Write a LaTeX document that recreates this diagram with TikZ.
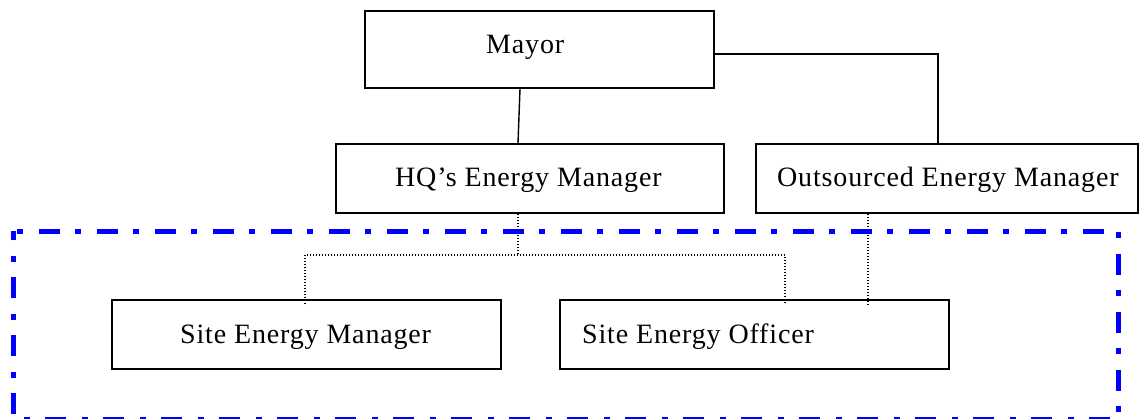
\documentclass[tikz,border=0pt]{standalone}
\usepackage{fontspec}
\setmainfont{Liberation Serif}[LetterSpace=3]
\usetikzlibrary{calc}
\begin{document}
\begin{tikzpicture}[x=1pt,y=-1pt,
  orgbox/.style={draw=black, line width=1.8pt, rectangle, inner sep=0pt},
  label/.style={anchor=base west, inner sep=0pt, font=\fontsize{28}{33}\selectfont},
  solidlink/.style={draw=black, line width=1.4pt},
  dottedlink/.style={draw=black, line width=1.1pt, dash pattern=on 1pt off 2pt},
  siteframe/.style={draw={rgb,255:red,0;green,0;blue,255}, line width=5pt,
    dash pattern=on 6pt off 16pt on 21pt off 15pt, dash phase=54pt}]
\useasboundingbox (0,0) rectangle (1140,418);

% boxes
\node[orgbox, minimum width=349pt, minimum height=77pt] (mayor) at (539.5,49.5) {};
\node[orgbox, minimum width=388pt, minimum height=69pt] (hq) at (530,178.5) {};
\node[orgbox, minimum width=382pt, minimum height=69pt] (out) at (947,178.5) {};
\node[orgbox, minimum width=389pt, minimum height=69pt] (sem) at (306.5,334.5) {};
\node[orgbox, minimum width=389pt, minimum height=69pt] (seo) at (754.5,334.5) {};

% texts
\node[label] (tmayor) at (486,53) {Mayor};
\node[label] (thq) at (395,186.5) {HQ’s Energy Manager};
\node[label] (tout) at (777,186.5) {Outsourced Energy Manager};
\node[label] (tsem) at (180,343) {Site Energy Manager};
\node[label] (tseo) at (582,343) {Site Energy Officer};

% line management
\draw[solidlink] ([xshift=-19.5pt]mayor.south) -- ([xshift=-12pt]hq.north);
\draw[solidlink] ([yshift=-4.5pt]mayor.east) -| ([xshift=-9pt]out.north);

% site-level reporting
\coordinate (hub) at (518,255);
\draw[dottedlink] ([xshift=-12pt]hq.south) -- (hub);
\draw[dottedlink] ([yshift=-5pt,xshift=-1.5pt]sem.north) |- (hub) -| ([yshift=-5pt,xshift=30.5pt]seo.north);
\draw[dottedlink] ([xshift=-79pt]out.south) -- ([yshift=-5pt,xshift=113.5pt]seo.north);

% site boundary
\draw[siteframe] (13,231) -- (1118,231) -- (1118,419.5) -- (13,419.5) -- cycle;
\end{tikzpicture}
\end{document}
